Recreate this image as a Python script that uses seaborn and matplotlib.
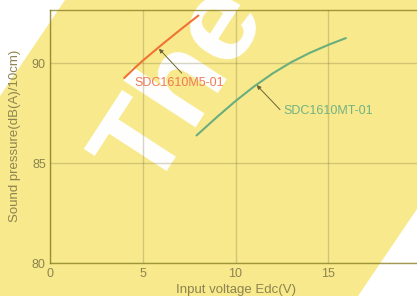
import matplotlib
matplotlib.use("Agg")
import matplotlib.pyplot as plt
import seaborn as sns
import pandas as pd
from matplotlib.patches import Polygon

# ---- data ----
models = ["SDC1610M5-01", "SDC1610MT-01"]
m5_voltage = [4.0, 4.5, 5.0, 6.0, 7.0, 8.0]
m5_spl = [89.25, 89.7, 90.12, 90.9, 91.65, 92.38]
mt_voltage = [7.9, 9.0, 10.0, 11.0, 12.0, 13.0, 14.0, 15.0, 15.95]
mt_spl = [86.38, 87.3, 88.1, 88.83, 89.48, 90.04, 90.51, 90.91, 91.25]
x_ticks = [0, 5, 10, 15]
y_ticks = [80, 85, 90]

df = pd.DataFrame({
    "voltage": m5_voltage + mt_voltage,
    "spl": m5_spl + mt_spl,
    "model": [models[0]] * len(m5_voltage) + [models[1]] * len(mt_voltage),
})

sns.set_theme(style="ticks")
plt.rcParams["font.family"] = ["Liberation Sans", "DejaVu Sans"]

W, H = 417, 296
fig = plt.figure(figsize=(W / 100, H / 100), dpi=100)
fig.patch.set_facecolor("white")

# yellow diagonal band (background decoration)
band_px = [(65, 0), (417, 0), (417, 209), (358, 296), (0, 296), (0, 96)]
band = Polygon([(x / W, 1 - y / H) for x, y in band_px], closed=True,
               facecolor="#f8e98c", edgecolor="none", zorder=-3,
               transform=fig.transFigure)
fig.add_artist(band)

# watermark text
fig.text(152 / W, 1 - 193 / H, "The", rotation=57, rotation_mode="anchor",
         ha="left", va="baseline", fontsize=86, fontweight="bold",
         color="white", zorder=-2)

ax = fig.add_axes([50 / W, 33 / H, (421 - 50) / W, (263 - 9.5) / H])
ax.patch.set_alpha(0)

line_colors = {models[0]: "#ee7433", models[1]: "#6aae7e"}
sns.lineplot(data=df, x="voltage", y="spl", hue="model", palette=line_colors,
             linewidth=1.5, legend=False, sort=False, estimator=None, ax=ax)

ax.set_xlim(0, 20)
ax.set_ylim(80, 92.68)
ax.set_xticks(x_ticks)
ax.set_yticks(y_ticks)
ax.set_xticklabels([str(t) for t in x_ticks])
ax.set_yticklabels([str(t) for t in y_ticks])

ax.grid(True, color=(0.45, 0.42, 0.2), alpha=0.28, linewidth=1.0)
for side in ["top", "left", "bottom"]:
    ax.spines[side].set_visible(True)
    ax.spines[side].set_color((0.55, 0.5, 0.15))
    ax.spines[side].set_alpha(0.8)
    ax.spines[side].set_linewidth(1.0)
ax.spines["right"].set_visible(False)

text_col = "#8c8450"
ax.tick_params(axis="both", length=0, labelsize=9, labelcolor=text_col)
ax.tick_params(axis="x", pad=3.5)
ax.tick_params(axis="y", pad=3)
ax.set_xlabel("Input voltage Edc(V)", fontsize=9.5, color=text_col, labelpad=3)
ax.set_ylabel("Sound pressure(dB(A)/10cm)", fontsize=9.5, color=text_col, labelpad=8)

arrow_col = "#6b6438"
ax.annotate("", xy=(5.87, 90.72), xytext=(7.1, 89.5),
            arrowprops=dict(arrowstyle="-|>", color=arrow_col, lw=0.7,
                            mutation_scale=6, shrinkA=0, shrinkB=0))
ax.text(4.53, 89.0, models[0], ha="left", va="center", fontsize=9,
        color="#f07a55")
ax.annotate("", xy=(11.14, 88.9), xytext=(12.4, 87.67),
            arrowprops=dict(arrowstyle="-|>", color=arrow_col, lw=0.7,
                            mutation_scale=6, shrinkA=0, shrinkB=0))
ax.text(12.58, 87.58, models[1], ha="left", va="center", fontsize=9,
        color="#72b284")

fig.savefig("out.png", dpi=100)
